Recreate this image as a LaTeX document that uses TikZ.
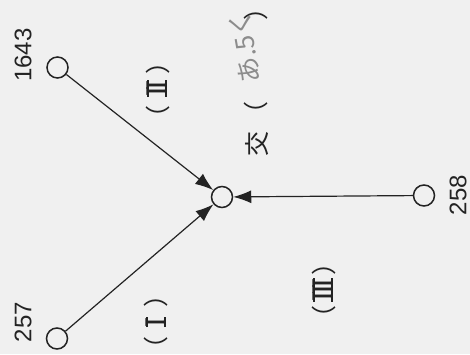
\documentclass[tikz,border=0pt]{standalone}
\usepackage{fontspec}
\setmainfont{Liberation Sans}
\newfontfamily\cjk{Noto Sans CJK JP}
\newfontfamily\romf{Liberation Serif}
\usetikzlibrary{arrows.meta}
\definecolor{bg}{RGB}{240,240,240}
\definecolor{ink}{RGB}{35,35,35}
\definecolor{pencil}{RGB}{140,140,140}
\newcommand\romnum[1]{\setbox0\hbox{#1}\rlap{\rule{\wd0}{1.5pt}}\rlap{\raisebox{\dimexpr\ht0-1.5pt\relax}{\rule{\wd0}{1.5pt}}}\box0}
\newcommand\lpar{\makebox[0.55em][r]{（}}
\newcommand\rpar{\makebox[0.55em][l]{）}}
\begin{document}
\begin{tikzpicture}[x=1pt,y=1pt,
  vtx/.style={circle,draw=ink,line width=1.5pt,minimum size=21pt,inner sep=0pt,fill=bg},
  edge/.style={draw=ink,line width=1.2pt,-{Latex[length=18pt,width=13pt]}},
  num/.style={rotate=90,font=\fontsize{24}{24}\selectfont,text=ink},
  par/.style={rotate=90,font=\cjk\fontsize{25}{25}\selectfont,text=ink,inner sep=0pt},
  rom/.style={rotate=90,font=\romf\fontsize{30}{30}\selectfont,text=ink,inner sep=0pt}]
\fill[bg] (0,0) rectangle (470,354);
\useasboundingbox (0,0) rectangle (470,354);
\node[vtx] (c) at (222,157) {};
\node[vtx] (a) at (57.5,286.5) {};
\node[vtx] (b) at (57,15.5) {};
\node[vtx] (d) at (424,158.5) {};
\draw[edge] (a) -- (c);
\draw[edge] (b) -- (c);
\draw[edge] (d) -- (c);
\node[num] (la) at (23,299) {1643};
\node[num] (lb) at (23,32) {257};
\node[num] (ld) at (458,159) {258};
% (II)
\node[rom] (r2) at (157,265.5) {\romnum{I\kern-3pt I}};
\node[par] (r2o) at (157.5,241.5) {\lpar};
\node[par] (r2c) at (157.5,286) {\rpar};
% (I)
\node[rom] (r1) at (156,32) {\romnum{I}};
\node[par] (r1o) at (156,10.5) {\lpar};
\node[par] (r1c) at (156,53) {\rpar};
% (III)
\node[rom] (r3) at (323,64) {\romnum{I\kern-3pt I\kern-3pt I}};
\node[par] (r3o) at (324,42) {\lpar};
\node[par] (r3c) at (324,85.5) {\rpar};
% kou
\node[rom,font=\cjk\fontsize{25}{25}\selectfont] (k) at (257,210) {交};
\node[par] (ko) at (256,246) {\lpar};
\node[par] (kc) at (256,340) {\rpar};
\node[rotate=100,font=\cjk\fontsize{26}{26}\selectfont,text=pencil,inner sep=0pt] (kh) at (245,307) {あ.5く};
\end{tikzpicture}
\end{document}
